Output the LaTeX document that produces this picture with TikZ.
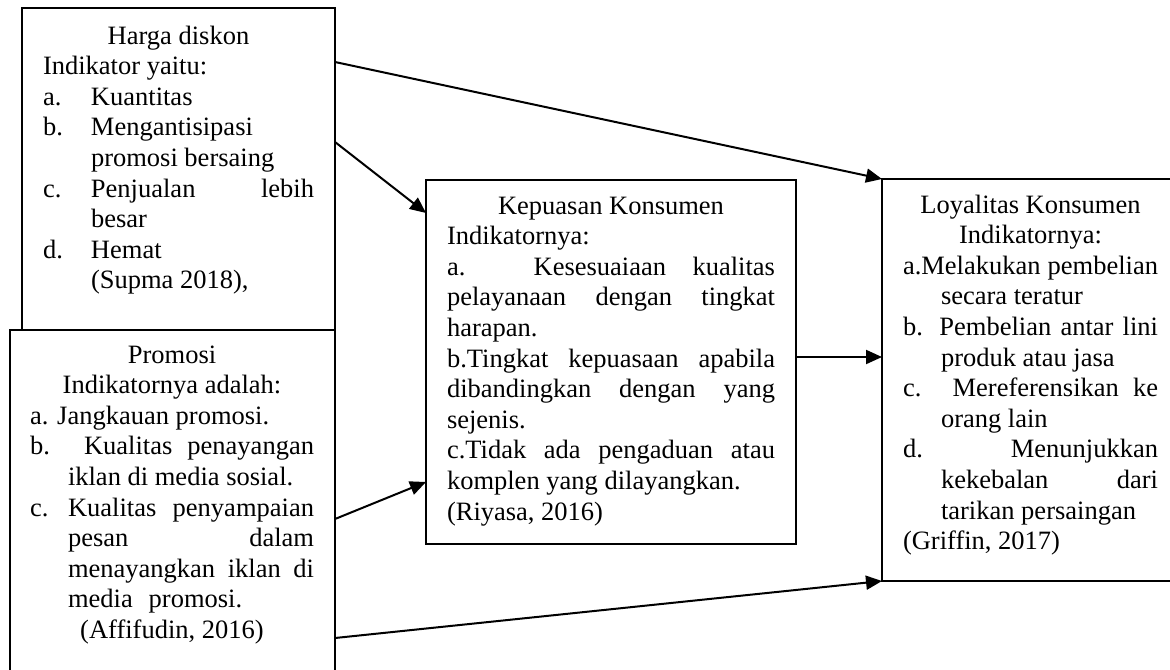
\documentclass[tikz,border=0pt]{standalone}
\usepackage{fontspec}
\setmainfont{Liberation Serif}
\usetikzlibrary{arrows.meta,calc}
\tikzset{
  box/.style={draw, line width=1pt, rectangle, inner sep=0pt, outer sep=0pt, anchor=north west, fill=white},
  txt/.style={inner sep=0pt, outer sep=0pt, anchor=base west, font=\fontsize{13.25pt}{15.3pt}\selectfont},
  arr/.style={line width=1pt, -{Triangle[length=8pt,width=7pt]}},
}
\begin{document}
\begin{tikzpicture}[x=0.5pt,y=-0.5pt]
\useasboundingbox (0,0) rectangle (1170,669);
% boxes
\node[box, minimum width=156.5pt, minimum height=161pt] (harga) at (22,8) {};
\node[box, minimum width=162.5pt, minimum height=175pt] (promosi) at (10,330) {};
\node[box, minimum width=185pt, minimum height=182pt] (kep) at (426,180) {};
\node[box, minimum width=150pt, minimum height=201pt] (loy) at (882,179) {};
% texts
\node[txt] (hargatxt) at (43,44) {\parbox[t]{135.5pt}{%
\makebox[\linewidth][c]{Harga diskon}\\
Indikator yaitu:\\
\makebox[24pt][l]{a.}Kuantitas\\
\makebox[24pt][l]{b.}Mengantisipasi\\
\hspace*{24pt}promosi bersaing\\
\makebox[24pt][l]{c.}\makebox[111.5pt][s]{Penjualan lebih}\\
\hspace*{24pt}besar\\
\makebox[24pt][l]{d.}Hemat\\
\hspace*{24pt}(Supma 2018),}};
\node[txt] (promositxt) at (30,363) {\parbox[t]{142pt}{%
\makebox[\linewidth][c]{Promosi}\\
\makebox[\linewidth][c]{Indikatornya adalah:}\\
a. Jangkauan promosi.\\
\makebox[\linewidth][s]{b. Kualitas penayangan}\\
\hspace*{19pt}iklan di media sosial.\\
\makebox[19pt][l]{c.}\makebox[123pt][s]{Kualitas penyampaian}\\
\hspace*{19pt}\makebox[123pt][s]{pesan dalam}\\
\hspace*{19pt}\makebox[123pt][s]{menayangkan iklan di}\\
\hspace*{19pt}media\hspace{8pt}promosi.\\
\makebox[\linewidth][c]{(Affifudin, 2016)}}};
\node[txt] (keptxt) at (447,214) {\parbox[t]{164pt}{%
\makebox[\linewidth][c]{Kepuasan Konsumen}\\
Indikatornya:\\
\makebox[\linewidth][s]{a. Kesesuaiaan kualitas}\\
\makebox[\linewidth][s]{pelayanaan dengan tingkat}\\
harapan.\\
\makebox[\linewidth][s]{b.Tingkat kepuasaan apabila}\\
\makebox[\linewidth][s]{dibandingkan dengan yang}\\
sejenis.\\
\makebox[\linewidth][s]{c.Tidak ada pengaduan atau}\\
komplen yang dilayangkan.\\
(Riyasa, 2016)}};
\node[txt] (loytxt) at (903,213) {\parbox[t]{127.5pt}{%
\makebox[\linewidth][c]{Loyalitas Konsumen}\\
\makebox[\linewidth][c]{Indikatornya:}\\
\makebox[\linewidth][s]{a.Melakukan pembelian}\\
\hspace*{19pt}secara teratur\\
\makebox[\linewidth][s]{b. Pembelian antar lini}\\
\hspace*{19pt}produk atau jasa\\
\makebox[\linewidth][s]{c. Mereferensikan ke}\\
\hspace*{19pt}orang lain\\
\makebox[\linewidth][s]{d. Menunjukkan}\\
\hspace*{19pt}\makebox[108.5pt][s]{kekebalan dari}\\
\hspace*{19pt}tarikan persaingan\\
(Griffin, 2017)}};
% arrows
\draw[arr] ([yshift=-27pt]harga.north east) -- (loy.north west);
\draw[arr] ([yshift=-67pt]harga.north east) -- ([yshift=-16.5pt]kep.north west);
\draw[arr] ([yshift=-94.5pt]promosi.north east) -- ([yshift=31pt]kep.south west);
\draw[arr] ([yshift=-154pt]promosi.north east) -- (loy.south west);
\draw[arr] ([yshift=2.5pt]kep.east) -- ([yshift=2.5pt]kep.east -| loy.west);
\end{tikzpicture}
\end{document}
